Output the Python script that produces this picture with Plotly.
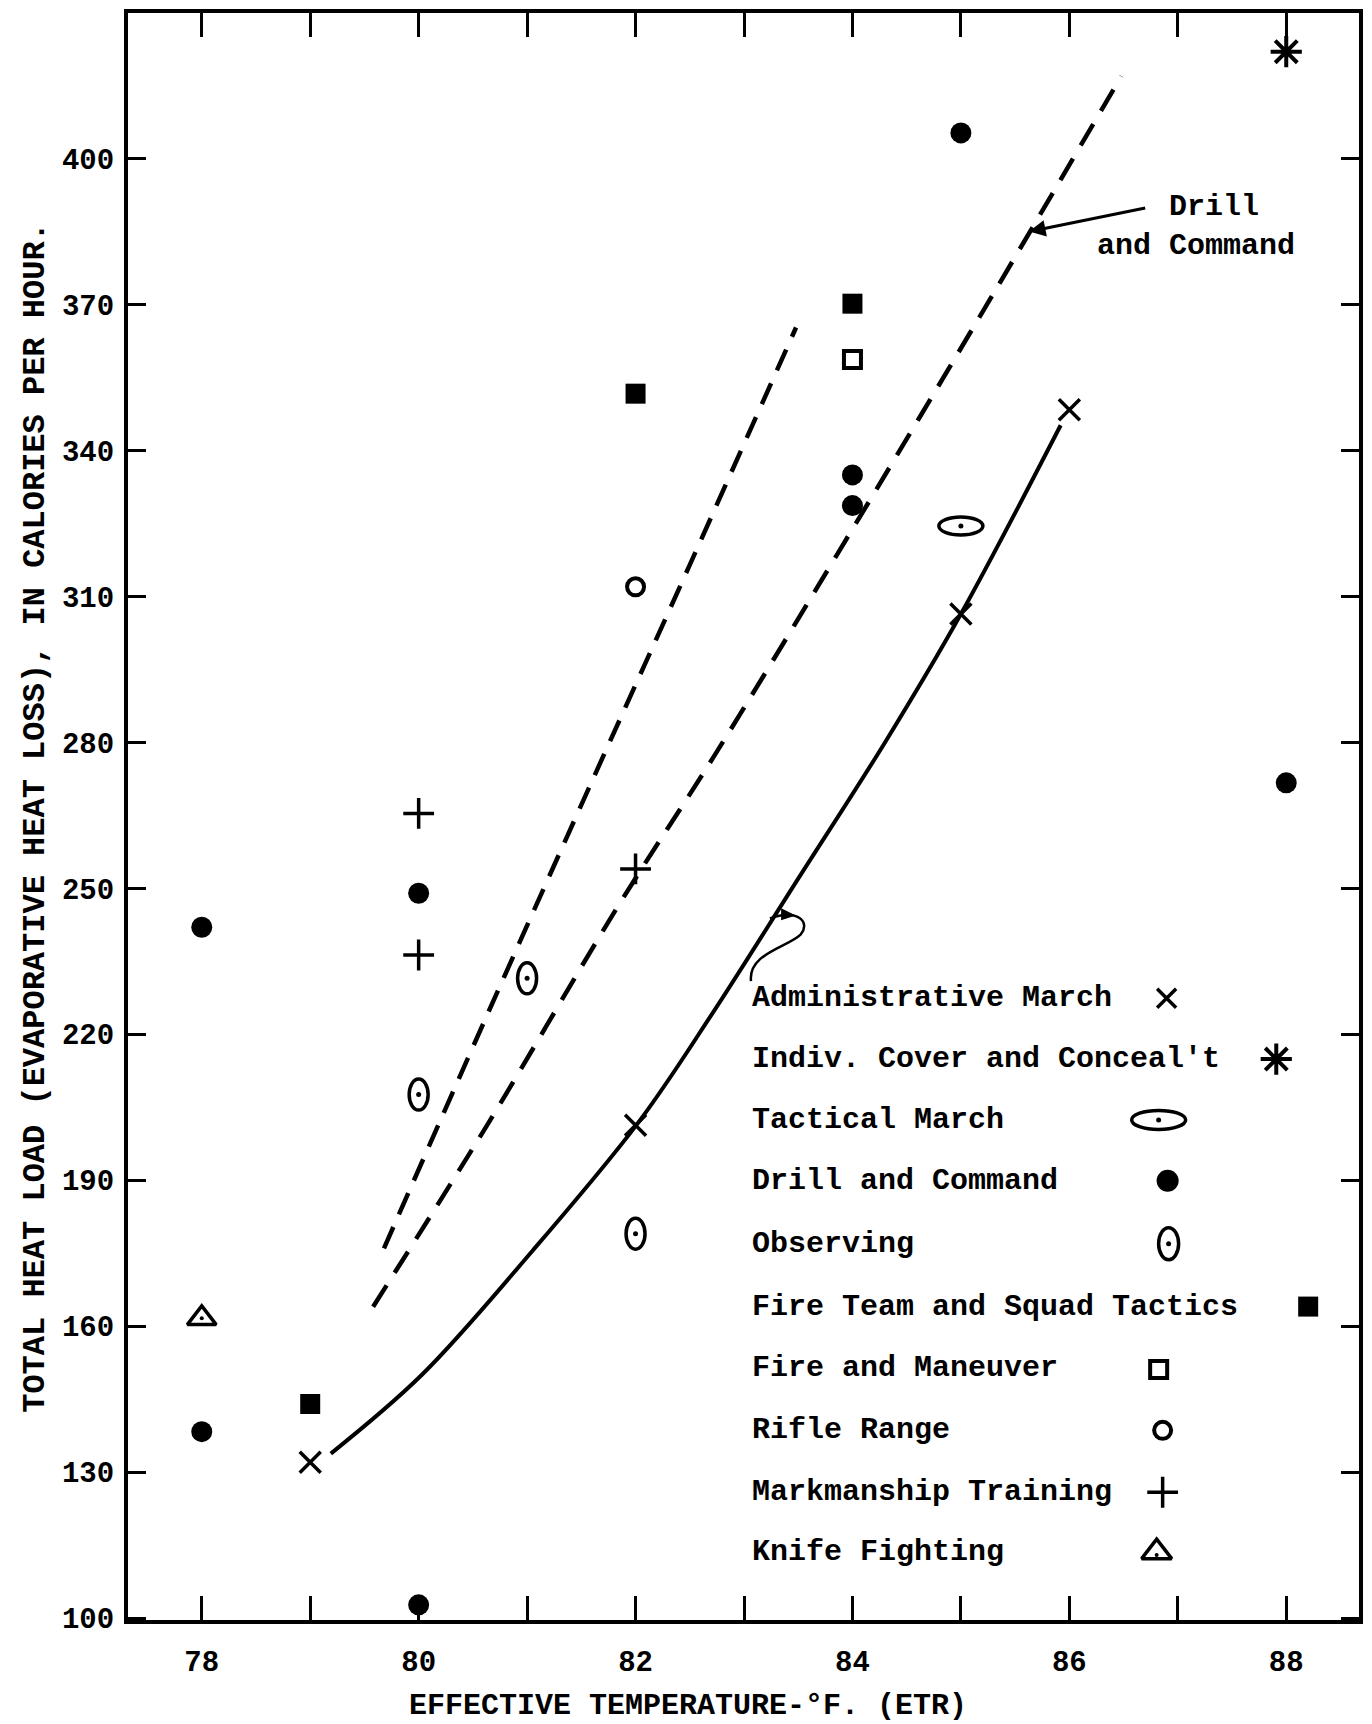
import plotly.graph_objects as go

# ---------------- data ----------------
admin_x = [79, 82, 85, 86]
admin_y = [132, 201.3, 306.4, 348.4]
cover_x = [88]
cover_y = [422]
tactical_x = [85]
tactical_y = [324.5]
drill_x = [78, 78, 80, 80, 84, 84, 85, 88]
drill_y = [242, 138.3, 249, 102.7, 335, 328.7, 405.3, 271.7]
observing_x = [80, 81, 82]
observing_y = [207.6, 231.5, 179]
fireteam_x = [79, 82, 84]
fireteam_y = [144, 351.7, 370.2]
firemaneuver_x = [84]
firemaneuver_y = [358.7]
rifle_x = [82]
rifle_y = [312]
marksman_x = [80, 80, 82]
marksman_y = [265.4, 236.3, 254]
knife_x = [78]
knife_y = [161.6]

# fitted curves
admin_fit_x = [79.19, 80.03, 81.05, 82.03, 82.7, 83.5, 84.3, 85.0, 85.92]
admin_fit_y = [133.8, 150.0, 175.5, 202.0, 224.0, 252.0, 280.0, 306.4, 345.2]
left_fit_x = [79.68, 80.62, 81.63, 82.5, 83.48]
left_fit_y = [176, 223.4, 273.6, 316.5, 365.3]
drill_fit_x = [79.58, 80.65, 81.84, 82.73, 83.89, 85.29, 86.48]
drill_fit_y = [164, 202, 246.4, 277.4, 319.8, 371.9, 417]

x_ticks = list(range(78, 89))
x_ticktext = [str(v) if v % 2 == 0 else "" for v in x_ticks]
y_ticks = list(range(100, 401, 30))
y_ticktext = [str(v) for v in y_ticks]

legend_labels = ["Administrative March", "Indiv. Cover and Conceal't", "Tactical March",
                 "Drill and Command", "Observing", "Fire Team and Squad Tactics",
                 "Fire and Maneuver", "Rifle Range", "Markmanship Training", "Knife Fighting"]

# ---------------- layout constants (pixels) ----------------
W, H = 1372, 1724
L, R, T, B = 128, 1363, 10, 1620
FONT = "Liberation Mono"
BLACK = "black"


def px2paper(px, py):
    return (px - L) / (R - L), (B - py) / (B - T)


fig = go.Figure()


def line(xs, ys, dash, width):
    fig.add_trace(go.Scatter(x=xs, y=ys, mode="lines",
                             line=dict(color=BLACK, width=width, dash=dash, shape="spline", smoothing=1.0),
                             hoverinfo="skip", showlegend=False))


line(admin_fit_x, admin_fit_y, "solid", 4)
line(left_fit_x, left_fit_y, "23px,14px", 4.5)
line(drill_fit_x, drill_fit_y, "25px,15px", 4.5)


def pts(xs, ys, symbol, size, lw=3, xa="x", ya="y"):
    fig.add_trace(go.Scatter(x=xs, y=ys, mode="markers", xaxis=xa, yaxis=ya,
                             marker=dict(symbol=symbol, size=size, color=BLACK,
                                         line=dict(color=BLACK, width=lw)),
                             hoverinfo="skip", showlegend=False))


pts(admin_x, admin_y, "x-thin-open", 21, 3.5)
pts(cover_x, cover_y, "asterisk-open", 26, 4)
pts(drill_x, drill_y, "circle", 21, 0)
pts(fireteam_x, fireteam_y, "square", 20, 0)
pts(firemaneuver_x, firemaneuver_y, "square-open", 17, 4)
pts(rifle_x, rifle_y, "circle-open", 17, 4)
pts(marksman_x, marksman_y, "cross-thin-open", 22, 3.5)
pts(knife_x, knife_y, "triangle-up-open", 25, 3.5)
pts(knife_x, knife_y, "circle", 4, 0)
pts(tactical_x, tactical_y, "circle", 5, 0)
pts(observing_x, observing_y, "circle", 5, 0)

shapes = []


def ellipse(xr, yr, xc, yc, w, h):
    shapes.append(dict(type="circle", xref=xr, yref=yr, xsizemode="pixel", ysizemode="pixel",
                       xanchor=xc, yanchor=yc, x0=-w / 2, x1=w / 2, y0=-h / 2, y1=h / 2,
                       line=dict(color=BLACK, width=3.5)))


for xv, yv in zip(tactical_x, tactical_y):
    ellipse("x", "y", xv, yv, 44, 18)
for xv, yv in zip(observing_x, observing_y):
    ellipse("x", "y", xv, yv, 19, 31)

# ---------------- legend (pixel overlay axes) ----------------
legend_rows = [997, 1058, 1119, 1180, 1243, 1306, 1368, 1430, 1492, 1552]
annotations = []
for lab, yr in zip(legend_labels, legend_rows):
    annotations.append(dict(xref="x2", yref="y2", x=752, y=yr, text=lab, showarrow=False,
                            xanchor="left", yanchor="middle",
                            font=dict(family=FONT, size=30, color=BLACK, weight="bold")))

pts([1170], [997], "x-thin-open", 19, 3.5, "x2", "y2")
pts([1280], [1058], "asterisk-open", 26, 4, "x2", "y2")
pts([1162], [1119], "circle", 5, 0, "x2", "y2")
ellipse("x2", "y2", 1162, 1119, 54, 19)
pts([1171], [1180], "circle", 22, 0, "x2", "y2")
pts([1172], [1243], "circle", 5, 0, "x2", "y2")
ellipse("x2", "y2", 1172, 1243, 20, 32)
pts([1312], [1306], "square", 20, 0, "x2", "y2")
pts([1162], [1369], "square-open", 17, 4, "x2", "y2")
pts([1166], [1430], "circle-open", 17, 4, "x2", "y2")
pts([1166], [1492], "cross-thin-open", 22, 3.5, "x2", "y2")
pts([1160], [1552], "triangle-up-open", 26, 3.5, "x2", "y2")
pts([1160], [1555], "circle", 4, 0, "x2", "y2")

# curly pointer from the legend to the solid curve
shapes.append(dict(type="path", xref="x2", yref="y2",
                   path="M 753 980 C 750 952, 790 946, 803 933 C 813 921, 800 907, 772 917",
                   line=dict(color=BLACK, width=2.5)))
shapes.append(dict(type="path", xref="x2", yref="y2",
                   path="M 784 908 L 796 914 L 784 918 Z", fillcolor=BLACK,
                   line=dict(color=BLACK, width=1.5)))

# "Drill and Command" label and arrow
annotations.append(dict(xref="x2", yref="y2", x=1199, y=224,
                        text="&nbsp;&nbsp;Drill<br>and Command", showarrow=False,
                        align="center", yanchor="middle",
                        font=dict(family=FONT, size=30, color=BLACK, weight="bold")))
annotations.append(dict(xref="x2", yref="y2", x=1032, y=229, axref="x2", ayref="y2",
                        ax=1150, ay=205, text="", showarrow=True, arrowhead=2,
                        arrowsize=1.1, arrowwidth=3, arrowcolor=BLACK))

# axis titles (paper coordinates)
xt_x, xt_y = px2paper(690, 1706)
annotations.append(dict(xref="paper", yref="paper", x=xt_x, y=xt_y,
                        text="EFFECTIVE TEMPERATURE-°F. (ETR)", showarrow=False,
                        xanchor="center", yanchor="middle",
                        font=dict(family=FONT, size=30, color=BLACK, weight="bold")))
yt_x, yt_y = px2paper(35, 816)
annotations.append(dict(xref="paper", yref="paper", x=yt_x, y=yt_y, textangle=-90,
                        text="TOTAL HEAT LOAD (EVAPORATIVE HEAT LOSS), IN CALORIES PER HOUR.",
                        showarrow=False, xanchor="center", yanchor="middle",
                        font=dict(family=FONT, size=32, color=BLACK, weight="bold")))

px_per_x = (1290 - 202) / 10.0
px_per_y = (1618 - 156) / 300.0
x_range = [78 - (202 - L) / px_per_x, 88 + (R - 1290) / px_per_x]
y_range = [100 - (B - 1618) / px_per_y, 400 + (156 - T) / px_per_y]

fig.update_layout(
    width=W, height=H,
    margin=dict(l=L, r=W - R, t=T, b=H - B),
    paper_bgcolor="white", plot_bgcolor="white",
    showlegend=False,
    shapes=shapes, annotations=annotations,
    xaxis=dict(range=x_range, tickvals=x_ticks, ticktext=x_ticktext,
               ticks="inside", ticklen=24, tickwidth=3, tickcolor=BLACK,
               showline=True, linewidth=4, linecolor=BLACK, mirror="ticks",
               showgrid=False, zeroline=False, ticklabelstandoff=12,
               tickfont=dict(family=FONT, size=29, color=BLACK, weight="bold")),
    yaxis=dict(range=y_range, tickvals=y_ticks, ticktext=y_ticktext,
               ticks="inside", ticklen=18, tickwidth=3, tickcolor=BLACK,
               showline=True, linewidth=4, linecolor=BLACK, mirror="ticks",
               showgrid=False, zeroline=False, ticklabelstandoff=4,
               tickfont=dict(family=FONT, size=29, color=BLACK, weight="bold")),
    xaxis2=dict(range=[L, R], overlaying="x", anchor="y2", visible=False),
    yaxis2=dict(range=[B, T], overlaying="y", anchor="x2", visible=False),
)

fig.write_html("out.html")
